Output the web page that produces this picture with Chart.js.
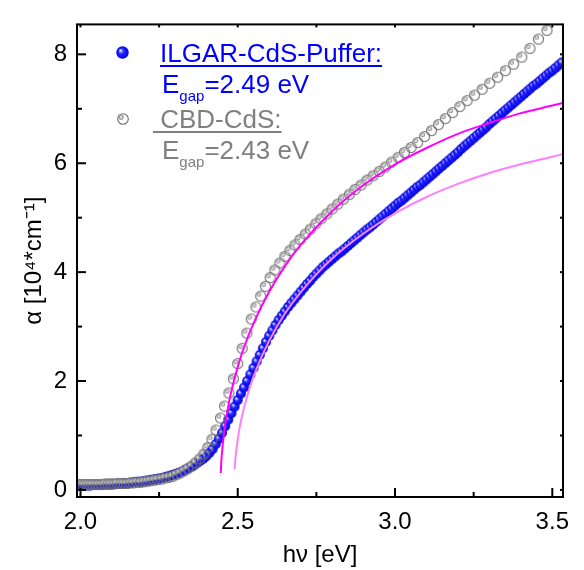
<!DOCTYPE html>
<html>
<head>
<meta charset="utf-8">
<script src="https://cdn.jsdelivr.net/npm/chart.js@4"></script>
<style>
  html, body { margin: 0; padding: 0; background: #fff; }
  #wrap { position: relative; width: 584px; height: 570px; }
  .lg { position: absolute; font: 26px/26px "Liberation Sans", Arial, sans-serif; white-space: pre; }
  .lg .sub { font-size: 15px; position: relative; top: 8px; }
  .ul { text-decoration: underline; text-decoration-thickness: 2px; text-underline-offset: 3px; }
  .mk { position: absolute; }
</style>
</head>
<body>
<div id="wrap">
  <canvas id="chart"></canvas>
  <div class="lg ul" style="left:160px; top:40px; color:#0000ff;">ILGAR-CdS-Puffer:</div>
  <div class="lg" style="left:162px; top:71px; color:#0000ff;">E<span class="sub">gap</span>=2.49 eV</div>
  <div class="lg ul" style="left:153px; top:106px; color:#808080;"> CBD-CdS:</div>
  <div class="lg" style="left:162px; top:137px; color:#808080;">E<span class="sub">gap</span>=2.43 eV</div>
</div>
<script>
/* absorption coefficient alpha(hv) of two CdS buffer layers, with sqrt fits */

// ILGAR-CdS (blue spheres)
const hvIlgar = [1.99,2.00,2.01,2.02,2.03,2.04,2.05,2.06,2.07,2.08,2.09,2.10,2.11,2.12,2.13,2.14,2.15,2.16,2.17,2.18,2.19,
  2.20,2.21,2.22,2.23,2.24,2.25,2.26,2.27,2.28,2.29,2.30,2.31,2.32,2.33,2.34,2.35,2.36,2.37,2.38,2.39,
  2.40,2.41,2.42,2.43,2.44,2.45,2.46,2.47,2.48,2.49,2.50,2.51,2.52,2.53,2.54,2.55,2.56,2.57,2.58,2.59,
  2.60,2.61,2.62,2.63,2.64,2.65,2.66,2.67,2.68,2.69,2.70,2.71,2.72,2.73,2.74,2.75,2.76,2.77,2.78,2.79,
  2.80,2.81,2.82,2.83,2.84,2.85,2.86,2.87,2.88,2.89,2.90,2.91,2.92,2.93,2.94,2.95,2.96,2.97,2.98,2.99,
  3.00,3.01,3.02,3.03,3.04,3.05,3.06,3.07,3.08,3.09,3.10,3.11,3.12,3.13,3.14,3.15,3.16,3.17,3.18,3.19,
  3.20,3.21,3.22,3.23,3.24,3.25,3.26,3.27,3.28,3.29,3.30,3.31,3.32,3.33,3.34,3.35,3.36,3.37,3.38,3.39,
  3.40,3.41,3.42,3.43,3.44,3.45,3.46,3.47,3.48,3.49,3.50,3.51,3.52,3.53];
const alphaIlgar = [0.08,0.08,0.08,0.08,0.08,0.09,0.09,0.09,0.09,0.10,0.10,0.10,0.11,0.11,0.11,0.12,0.12,0.13,0.14,0.15,0.15,
  0.16,0.17,0.18,0.19,0.20,0.21,0.22,0.24,0.25,0.27,0.29,0.31,0.33,0.36,0.39,0.42,0.45,0.49,0.53,0.57,
  0.62,0.68,0.75,0.84,0.94,1.05,1.17,1.29,1.41,1.53,1.65,1.77,1.88,2.00,2.12,2.24,2.36,2.48,2.60,2.72,
  2.83,2.93,3.03,3.12,3.20,3.28,3.36,3.43,3.50,3.57,3.64,3.71,3.78,3.84,3.91,3.97,4.03,4.09,4.14,4.19,
  4.24,4.29,4.34,4.38,4.43,4.48,4.53,4.58,4.63,4.68,4.73,4.78,4.82,4.87,4.92,4.97,5.02,5.07,5.12,5.17,
  5.22,5.27,5.31,5.36,5.41,5.46,5.51,5.56,5.60,5.65,5.70,5.75,5.80,5.85,5.90,5.95,6.00,6.05,6.10,6.15,
  6.20,6.26,6.31,6.36,6.41,6.46,6.51,6.56,6.61,6.66,6.72,6.77,6.82,6.87,6.92,6.97,7.02,7.07,7.12,7.17,
  7.22,7.27,7.32,7.37,7.42,7.46,7.51,7.56,7.61,7.66,7.70,7.75,7.80,7.85];

// CBD-CdS (grey open circles)
const hvCbd = [1.994,2.003,2.012,2.021,2.030,2.039,2.049,2.058,2.068,2.078,2.088,2.097,2.107,2.117,2.128,2.138,2.148,
  2.159,2.169,2.180,2.191,2.202,2.213,2.224,2.235,2.246,2.258,2.269,2.281,2.293,2.305,2.317,2.329,2.341,2.354,
  2.366,2.379,2.392,2.405,2.418,2.431,2.445,2.458,2.472,2.486,2.500,2.514,2.529,2.543,2.558,2.573,2.588,2.603,
  2.618,2.634,2.650,2.666,2.682,2.698,2.715,2.731,2.748,2.765,2.783,2.800,2.818,2.836,2.855,2.873,2.892,2.911,
  2.930,2.950,2.969,2.989,3.010,3.030,3.051,3.072,3.094,3.116,3.138,3.160,3.183,3.206,3.229,3.253,3.277,3.301,
  3.326,3.351,3.377,3.403,3.429,3.456,3.483];
const alphaCbd = [0.10,0.10,0.10,0.10,0.10,0.10,0.10,0.10,0.10,0.11,0.11,0.11,0.11,0.12,0.12,0.12,0.12,
  0.13,0.13,0.14,0.14,0.15,0.16,0.17,0.18,0.19,0.20,0.22,0.23,0.25,0.28,0.31,0.35,0.39,0.44,
  0.50,0.57,0.66,0.78,0.93,1.10,1.32,1.54,1.78,2.04,2.32,2.60,2.88,3.14,3.36,3.56,3.74,3.90,
  4.04,4.17,4.29,4.40,4.50,4.60,4.70,4.79,4.89,4.98,5.07,5.16,5.25,5.34,5.43,5.52,5.60,5.69,
  5.77,5.85,5.93,6.02,6.11,6.20,6.29,6.38,6.49,6.60,6.71,6.82,6.93,7.04,7.15,7.25,7.36,7.47,
  7.58,7.70,7.82,7.95,8.11,8.28,8.44];

// fit curves
const hvFitCbd = [2.446,2.448,2.450,2.455,2.460,2.470,2.480,2.500,2.520,2.550,2.600,2.650,2.700,2.800,2.900,3.000,3.100,3.200,3.300,3.400,3.500,3.535];
const alphaFitCbd = [0.31,0.54,0.69,0.98,1.20,1.54,1.82,2.26,2.62,3.06,3.64,4.11,4.50,5.12,5.60,5.98,6.28,6.54,6.74,6.92,7.06,7.11];
const hvFitIlgar = [2.490,2.492,2.495,2.500,2.510,2.520,2.540,2.560,2.600,2.650,2.700,2.800,2.900,3.000,3.100,3.200,3.300,3.400,3.500,3.535];
const alphaFitIlgar = [0.38,0.54,0.71,0.93,1.26,1.51,1.91,2.23,2.74,3.24,3.63,4.25,4.71,5.08,5.38,5.62,5.82,5.98,6.12,6.17];

// axis ticks
const xMajorTicks = [2.0, 2.5, 3.0, 3.5];
const xMinorTicks = [2.25, 2.75, 3.25];
const yMajorTicks = [0, 2, 4, 6, 8];
const yMinorTicks = [1, 3, 5, 7];

const FONT = '"Liberation Sans", Arial, sans-serif';

function toXY(xs, ys) { return xs.map((x, i) => ({ x: x, y: ys[i] })); }

function makeSphere(r) {
  const c = document.createElement('canvas');
  const s = Math.ceil(2 * r + 2);
  c.width = c.height = s;
  const g = c.getContext('2d');
  const m = s / 2;
  const grad = g.createRadialGradient(m - r * 0.35, m - r * 0.35, 0.3, m, m, r);
  grad.addColorStop(0, '#f0f0ff');
  grad.addColorStop(0.4, '#2828ff');
  grad.addColorStop(1, '#0000e0');
  g.fillStyle = grad;
  g.beginPath(); g.arc(m, m, r, 0, Math.PI * 2); g.fill();
  return c;
}

function makeRing(r) {
  const c = document.createElement('canvas');
  const s = Math.ceil(2 * r + 3);
  c.width = c.height = s;
  const g = c.getContext('2d');
  const m = s / 2;
  g.strokeStyle = '#707070'; g.lineWidth = 1.1;
  g.beginPath(); g.arc(m, m, r, 0, Math.PI * 2); g.stroke();
  g.fillStyle = '#e0e0e0'; g.strokeStyle = '#999999';
  g.beginPath(); g.arc(m - r * 0.35, m - r * 0.35, r * 0.38, 0, Math.PI * 2); g.fill(); g.stroke();
  return c;
}

const sphere = makeSphere(5);
const ring = makeRing(5);

// legend symbols
function placeMarker(img, cx, cy) {
  img.className = 'mk';
  img.style.left = (cx - img.width / 2) + 'px';
  img.style.top = (cy - img.height / 2) + 'px';
  document.getElementById('wrap').appendChild(img);
}
placeMarker(makeSphere(6.2), 122.5, 52.5);
placeMarker(makeRing(5.3), 122.7, 119.3);

/* frame + inward ticks on all four sides */
const axisFrame = {
  id: 'axisFrame',
  afterDraw(chart) {
    const { ctx, chartArea: a, scales: { x, y } } = chart;
    const seg = (x1, y1, x2, y2) => { ctx.beginPath(); ctx.moveTo(x1, y1); ctx.lineTo(x2, y2); ctx.stroke(); };
    ctx.save();
    ctx.strokeStyle = '#000';
    ctx.lineWidth = 2;
    ctx.strokeRect(a.left, a.top, a.right - a.left, a.bottom - a.top);
    xMajorTicks.forEach(v => { const p = x.getPixelForValue(v); seg(p, a.bottom, p, a.bottom - 9); seg(p, a.top, p, a.top + 3); });
    xMinorTicks.forEach(v => { const p = x.getPixelForValue(v); seg(p, a.bottom, p, a.bottom - 5); seg(p, a.top, p, a.top + 3); });
    yMajorTicks.forEach(v => { const p = y.getPixelForValue(v); seg(a.left, p, a.left + 9, p); seg(a.right, p, a.right - 3, p); });
    yMinorTicks.forEach(v => { const p = y.getPixelForValue(v); seg(a.left, p, a.left + 5, p); seg(a.right, p, a.right - 3, p); });
    ctx.restore();
  }
};

new Chart(document.getElementById('chart'), {
  type: 'scatter',
  data: {
    datasets: [
      {
        label: 'fit CBD', type: 'line', data: toXY(hvFitCbd, alphaFitCbd),
        borderColor: '#ff00ff', borderWidth: 2, pointRadius: 0, cubicInterpolationMode: 'monotone', order: 0
      },
      {
        label: 'fit ILGAR', type: 'line', data: toXY(hvFitIlgar, alphaFitIlgar),
        borderColor: '#ff80ff', borderWidth: 2, pointRadius: 0, cubicInterpolationMode: 'monotone', order: 1
      },
      {
        label: 'CBD-CdS', data: toXY(hvCbd, alphaCbd),
        pointStyle: ring, pointRadius: 5, order: 2
      },
      {
        label: 'ILGAR-CdS-Puffer', data: toXY(hvIlgar, alphaIlgar),
        pointStyle: sphere, pointRadius: 5, order: 3
      }
    ]
  },
  options: {
    animation: false,
    responsive: true,
    maintainAspectRatio: false,
    layout: { padding: { top: 11, right: 21, left: 0, bottom: 0 } },
    plugins: { legend: { display: false }, tooltip: { enabled: false } },
    scales: {
      x: {
        type: 'linear', min: 1.989, max: 3.534,
        afterFit: s => { s.height = 73; },
        afterBuildTicks: s => { s.ticks = xMajorTicks.map(v => ({ value: v })); },
        grid: { display: false, drawTicks: false },
        border: { display: false },
        ticks: { color: '#000', font: { family: FONT, size: 24 }, padding: 11, maxRotation: 0, autoSkip: false,
                 callback: v => v.toFixed(1) },
        title: { display: true, text: 'hν [eV]', color: '#000', font: { family: FONT, size: 24 }, padding: { top: 0, bottom: 0 } }
      },
      y: {
        min: -0.13, max: 8.55,
        afterFit: s => { s.width = 77; },
        afterBuildTicks: s => { s.ticks = yMajorTicks.map(v => ({ value: v })); },
        grid: { display: false, drawTicks: false },
        border: { display: false },
        ticks: { color: '#000', font: { family: FONT, size: 24 }, padding: 10, callback: v => String(v) },
        title: { display: true, text: 'α [10⁴*cm⁻¹]', color: '#000', font: { family: FONT, size: 24 }, padding: { top: 20, bottom: 0 } }
      }
    }
  },
  plugins: [axisFrame]
});
</script>
</body>
</html>
